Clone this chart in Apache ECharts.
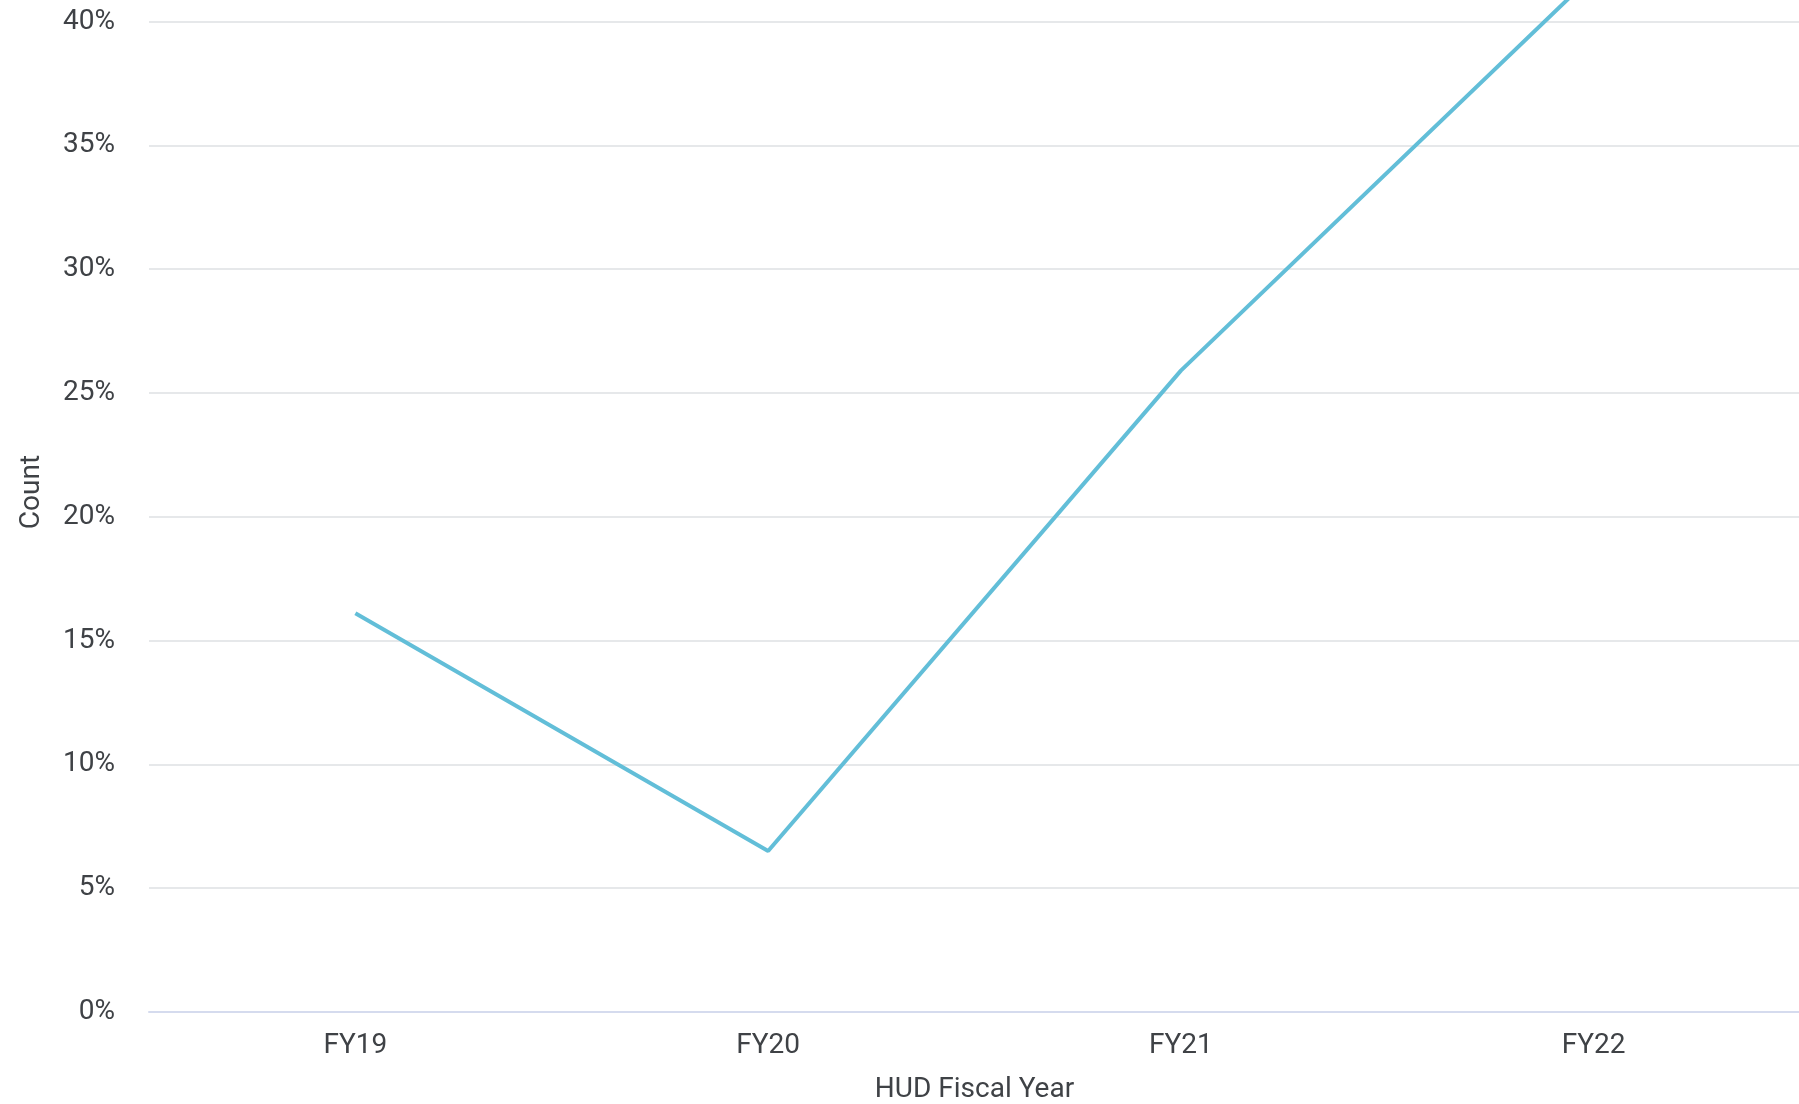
<!DOCTYPE html>
<html>
<head>
<meta charset="utf-8">
<style>
  html, body { margin: 0; padding: 0; background: #ffffff; }
  #chart { width: 1799px; height: 1104px; }
</style>
<script src="https://cdn.jsdelivr.net/npm/echarts@6/dist/echarts.min.js"></script>
</head>
<body>
<div id="chart"></div>
<script>
// Fiscal years on the category axis
const fiscalYears = ['FY19', 'FY20', 'FY21', 'FY22'];
// Share per year, in percent
const shareValues = [16.1, 6.5, 25.9, 41.9];
// Value axis range and step (percent)
const yMin = 0;
const yMax = 42;
const yStep = 5;

const chart = echarts.init(document.getElementById('chart'), null, { renderer: 'canvas' });

const textColor = '#3f4246';
const fontFamily = 'Roboto, "Noto Sans", sans-serif';
const fontSize = 28;

chart.setOption({
  backgroundColor: '#ffffff',
  animation: false,
  grid: {
    left: 149, right: -1, top: -28, bottom: 92,
    containLabel: false,
    outerBoundsMode: 'none'
  },
  xAxis: {
    type: 'category',
    data: fiscalYears,
    boundaryGap: true,
    name: 'HUD Fiscal Year',
    nameLocation: 'middle',
    nameGap: 64,
    nameTextStyle: { color: textColor, fontSize: fontSize, fontFamily: fontFamily },
    axisLine: { show: true, lineStyle: { color: '#d5dbee', width: 2 } },
    axisTick: { show: false },
    axisLabel: { color: textColor, fontSize: fontSize, fontFamily: fontFamily, margin: 20 },
    splitLine: { show: false }
  },
  yAxis: {
    type: 'value',
    min: yMin,
    max: yMax,
    interval: yStep,
    name: 'Count',
    nameLocation: 'middle',
    nameGap: 103,
    nameTextStyle: { color: textColor, fontSize: fontSize, fontFamily: fontFamily },
    axisLine: { show: false },
    axisTick: { show: false },
    axisLabel: {
      color: textColor, fontSize: fontSize, fontFamily: fontFamily, margin: 34,
      formatter: function (v) { return (v % yStep === 0) ? v + '%' : ''; }
    },
    splitLine: { show: true, lineStyle: { color: '#e6e8ea', width: 2 } }
  },
  series: [{
    type: 'line',
    data: shareValues,
    symbol: 'none',
    smooth: false,
    lineStyle: { color: '#62bed8', width: 4 },
    itemStyle: { color: '#62bed8' }
  }]
});
</script>
</body>
</html>
